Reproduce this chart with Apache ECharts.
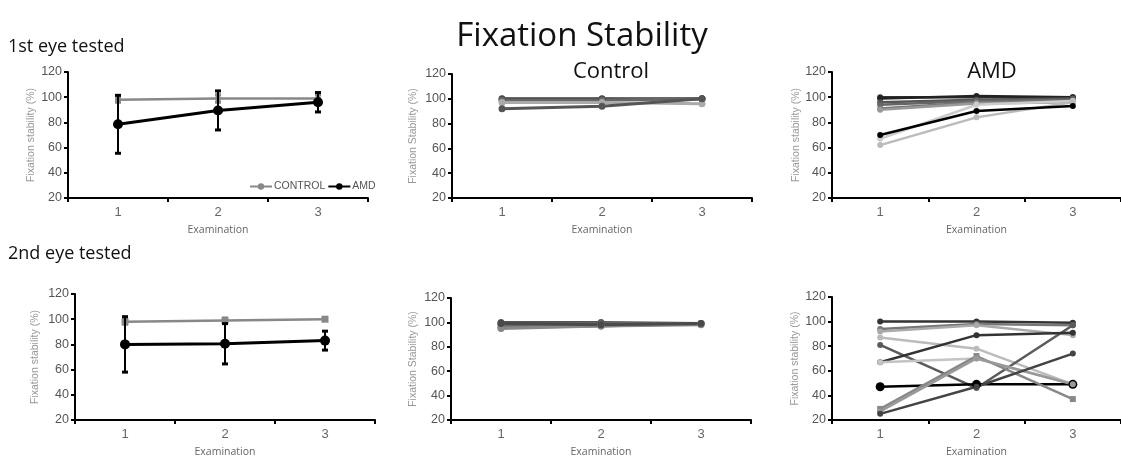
<!DOCTYPE html>
<html><head><meta charset="utf-8">
<script src="https://cdn.jsdelivr.net/npm/echarts@6/dist/echarts.min.js"></script>
<style>html,body{margin:0;padding:0;background:#fff}#c{width:1121px;height:459px}</style>
</head><body><div id="c"></div>
<script>
// ---- data ----
const categories = ['1', '2', '3'];
const yMin = 20, yMax = 120, yStep = 20;

// group means (left panels)
const eye1Control = [98, 99, 99];
const eye1ControlErr = [2, 3, 3];
const eye1Amd = [78.5, 89.5, 96];
const eye1AmdErr = [23, 15.5, 7.7];
const eye2Control = [98, 99, 100];
const eye2ControlErr = [2, 2, 1];
const eye2Amd = [80, 80.5, 83];
const eye2AmdErr = [22, 16, 7.5];

// individual subjects
const controlEye1 = [
  [100, 100, 100],
  [99, 99, 100],
  [97, 97, 96],
  [92, 94, 100]
];
const controlEye1Colors = ['#3a3a3a', '#666', '#aaa', '#555'];

const controlEye2 = [
  [100, 100, 99],
  [98, 99, 99],
  [96, 97, 99],
  [95, 97, 98],
  [99, 98, 99]
];
const controlEye2Colors = ['#555', '#666', '#777', '#888', '#4a4a4a'];

const amdEye1 = [
  [100, 100, 100],
  [99, 101, 100],
  [96, 98, 99],
  [94, 97, 98],
  [91, 96, 97],
  [90, 95, 96],
  [67, 94, 97],
  [62, 84, 96],
  [70, 89, 93]
];
const amdEye1Colors = ['#333', '#222', '#555', '#666', '#777', '#999', '#ccc', '#bbb', '#000'];

const amdEye2 = [
  [100, 100, 99],
  [94, 98, 97],
  [92, 97, 89],
  [87, 78, 49],
  [81, 46, 97],
  [67, 89, 91],
  [67, 70, 49],
  [47, 49, 49],
  [29, 72, 37],
  [27, 70, 49],
  [25, 47, 74]
];
const amdEye2Colors = ['#333', '#777', '#aaa', '#bbb', '#5a5a5a', '#333', '#c4c4c4', '#000', '#888', '#999', '#444'];
const amdEye2Symbols = ['circle','circle','circle','circle','circle','circle','circle','circle','rect','circle','circle'];

// ---- layout ----
const grids = [
  {left: 68, top: 72, width: 300, height: 126},
  {left: 452, top: 74, width: 300, height: 124},
  {left: 832, top: 72, width: 300, height: 126},
  {left: 75, top: 294, width: 300, height: 128},
  {left: 451, top: 298, width: 300, height: 124},
  {left: 832, top: 297, width: 300, height: 127}
];
const yNames = ['Fixation stability (%)', 'Fixation Stability (%)', 'Fixation stability (%)',
                'Fixation stability (%)', 'Fixation Stability (%)', 'Fixation stability (%)'];
const yNameGaps = [31, 33, 30, 34, 32, 31];

const xAxes = grids.map((g, i) => ({
  type: 'category', gridIndex: i, data: categories, boundaryGap: true,
  axisLine: {lineStyle: {color: '#000', width: 2}},
  axisTick: {show: true, length: 4, lineStyle: {color: '#000', width: 2}},
  axisLabel: {color: '#666', fontSize: 13, fontFamily: 'Liberation Sans, Arial', margin: 8},
  name: 'Examination', nameLocation: 'middle', nameGap: 27,
  nameTextStyle: {color: '#666', fontSize: 10.5, fontFamily: 'Open Sans'}
}));
const yAxes = grids.map((g, i) => ({
  type: 'value', gridIndex: i, min: yMin, max: yMax, interval: yStep,
  splitLine: {show: false},
  axisLine: {show: true, lineStyle: {color: '#000', width: 2}},
  axisTick: {show: true, length: 4, lineStyle: {color: '#000', width: 2}},
  axisLabel: {color: '#555', fontSize: 12.5, fontFamily: 'Liberation Sans, Arial', margin: 6},
  name: yNames[i], nameLocation: 'middle', nameGap: yNameGaps[i], nameRotate: 90,
  nameTextStyle: {color: '#999', fontSize: 10.5, fontFamily: 'Liberation Sans, Arial'}
}));

function lineSeries(idx, data, color, opts) {
  return Object.assign({
    type: 'line', xAxisIndex: idx, yAxisIndex: idx, data: data,
    symbol: 'circle', symbolSize: 6,
    lineStyle: {color: color, width: 2.5},
    itemStyle: {color: color}, emphasis: {disabled: true}, silent: true
  }, opts || {});
}
function errSeries(idx, vals, errs, color, z) {
  return {
    type: 'custom', xAxisIndex: idx, yAxisIndex: idx, z: z, silent: true,
    data: vals.map((v, i) => [i, v - errs[i], v + errs[i]]),
    renderItem: function (params, api) {
      const x = api.value(0);
      const lo = api.coord([x, api.value(1)]);
      const hi = api.coord([x, api.value(2)]);
      const hw = 3;
      const st = {stroke: color, lineWidth: 2};
      return {type: 'group', children: [
        {type: 'line', shape: {x1: lo[0], y1: lo[1], x2: hi[0], y2: hi[1]}, style: st},
        {type: 'line', shape: {x1: lo[0] - hw, y1: lo[1], x2: lo[0] + hw, y2: lo[1]}, style: {stroke: color, lineWidth: 3}},
        {type: 'line', shape: {x1: hi[0] - hw, y1: hi[1], x2: hi[0] + hw, y2: hi[1]}, style: {stroke: color, lineWidth: 3}}
      ]};
    }
  };
}

const series = [];
// panel 0: 1st eye means
series.push(errSeries(0, eye1Control, eye1ControlErr, '#888', 2));
series.push(lineSeries(0, eye1Control, '#888', {name: 'CONTROL', z: 3, symbolSize: 6}));
series.push(errSeries(0, eye1Amd, eye1AmdErr, '#000', 4));
series.push(lineSeries(0, eye1Amd, '#000', {name: 'AMD', z: 5, symbolSize: 10, lineStyle: {color: '#000', width: 3}}));
// panel 3: 2nd eye means
series.push(errSeries(3, eye2Control, eye2ControlErr, '#888', 2));
series.push(lineSeries(3, eye2Control, '#888', {z: 3, symbol: 'rect', symbolSize: 7}));
series.push(errSeries(3, eye2Amd, eye2AmdErr, '#000', 4));
series.push(lineSeries(3, eye2Amd, '#000', {z: 5, symbolSize: 10, lineStyle: {color: '#000', width: 3}}));
// control individuals
controlEye1.forEach((d, k) => series.push(lineSeries(1, d, controlEye1Colors[k], {symbolSize: 7, lineStyle: {color: controlEye1Colors[k], width: 3}})));
controlEye2.forEach((d, k) => series.push(lineSeries(4, d, controlEye2Colors[k], {symbolSize: 7, lineStyle: {color: controlEye2Colors[k], width: 3}})));
// AMD individuals
amdEye1.forEach((d, k) => series.push(lineSeries(2, d, amdEye1Colors[k], {symbolSize: 6, z: k === amdEye1.length - 1 ? 4 : 2, lineStyle: {color: amdEye1Colors[k], width: 2.5}})));
amdEye2.forEach((d, k) => series.push(lineSeries(5, d, amdEye2Colors[k], {symbol: amdEye2Symbols[k], symbolSize: k === 7 ? 9 : 6, lineStyle: {color: amdEye2Colors[k], width: 2.5}})));

const chart = echarts.init(document.getElementById('c'), null, {renderer: 'canvas'});
chart.setOption({
  backgroundColor: '#fff',
  animation: false,
  title: [
    {text: 'Fixation Stability', left: 577, top: 15, textAlign: 'center',
     textStyle: {fontSize: 33, fontWeight: 'normal', color: '#111', fontFamily: 'Open Sans'}},
    {text: '1st eye tested', left: 3, top: 33, textStyle: {fontSize: 18, fontWeight: 'normal', color: '#111', fontFamily: 'Open Sans'}},
    {text: '2nd eye tested', left: 3, top: 240, textStyle: {fontSize: 18, fontWeight: 'normal', color: '#111', fontFamily: 'Open Sans'}},
    {text: 'Control', left: 606, top: 56, textAlign: 'center', textStyle: {fontSize: 22, fontWeight: 'normal', color: '#111', fontFamily: 'Open Sans'}},
    {text: 'AMD', left: 987, top: 56, textAlign: 'center', textStyle: {fontSize: 22, fontWeight: 'normal', color: '#111', fontFamily: 'Open Sans'}}
  ],
  legend: {
    data: ['CONTROL', 'AMD'], left: 244, top: 176, itemWidth: 22, itemHeight: 8, itemGap: 2,
    textStyle: {color: '#555', fontSize: 10.5, fontFamily: 'Liberation Sans, Arial', padding: [0, 0, 0, -3]},
    selectedMode: false
  },
  grid: grids,
  xAxis: xAxes,
  yAxis: yAxes,
  series: series
});
</script></body></html>
